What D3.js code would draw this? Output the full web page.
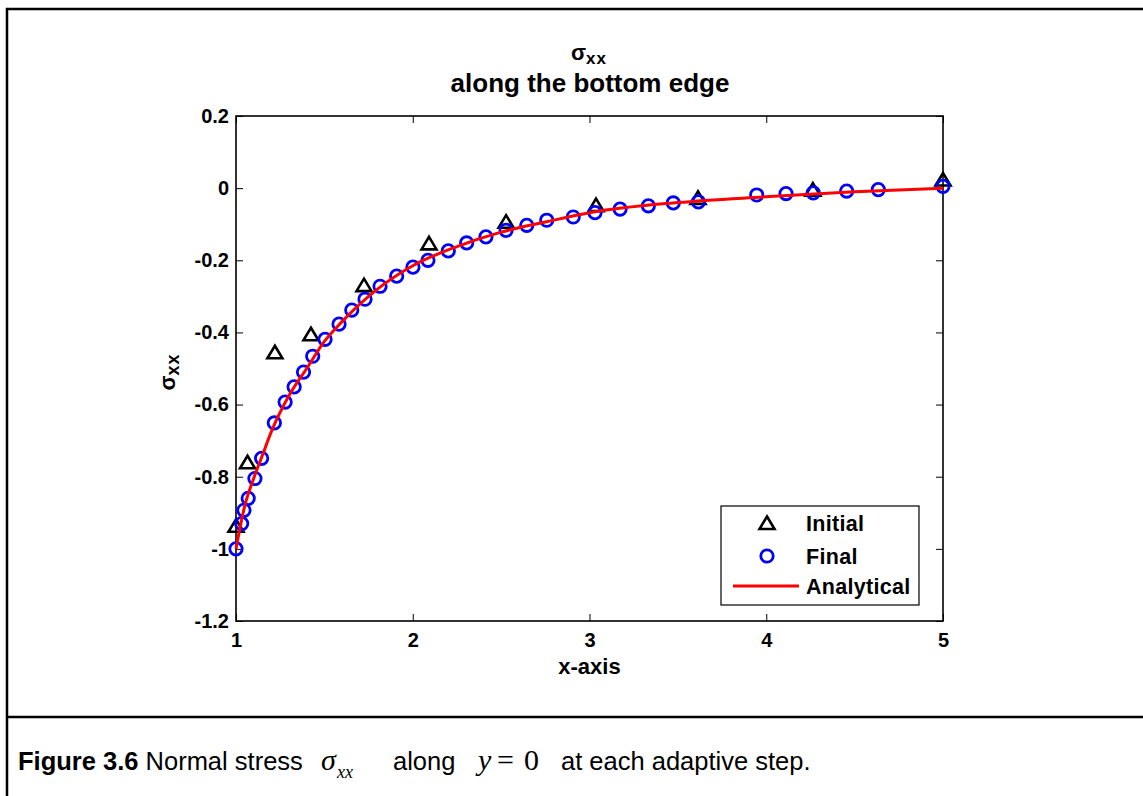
<!DOCTYPE html>
<html>
<head>
<meta charset="utf-8">
<script src="https://cdn.jsdelivr.net/npm/d3@7"></script>
<style>
  html, body { margin: 0; padding: 0; background: #fff; }
  svg { display: block; }
</style>
</head>
<body>
<script>
// ---------------- data ----------------
const initialX = [1.0, 1.065, 1.22, 1.424, 1.724, 2.092, 2.528, 3.037, 3.614, 4.264, 5.0];
const initialY = [-0.936, -0.76, -0.455, -0.405, -0.269, -0.153, -0.093, -0.047, -0.027, -0.004, 0.024];

const finalX = [1.0, 1.032, 1.045, 1.069, 1.107, 1.145, 1.217, 1.278, 1.329, 1.382, 1.434, 1.504,
  1.583, 1.655, 1.730, 1.815, 1.909, 2.001, 2.086, 2.201, 2.305, 2.414, 2.528, 2.645, 2.758,
  2.908, 3.031, 3.173, 3.333, 3.474, 3.616, 3.946, 4.112, 4.266, 4.455, 4.634, 5.0];
const finalY = [-1.0, -0.930, -0.893, -0.860, -0.805, -0.749, -0.651, -0.593, -0.551, -0.510, -0.466, -0.419,
  -0.377, -0.338, -0.308, -0.272, -0.244, -0.219, -0.200, -0.174, -0.152, -0.135, -0.117, -0.103, -0.089,
  -0.080, -0.068, -0.058, -0.049, -0.041, -0.038, -0.019, -0.015, -0.013, -0.008, -0.004, 0.005];

const analyticalX = [1.0, 1.05, 1.1, 1.15, 1.2, 1.3, 1.4, 1.5, 1.6, 1.8, 2.0, 2.25, 2.5, 2.75, 3.0, 3.5, 4.0, 4.5, 5.0];
const analyticalY = [-1.0, -0.88, -0.805, -0.74, -0.675, -0.575, -0.50, -0.425, -0.37, -0.28, -0.215, -0.162, -0.122, -0.094, -0.068, -0.040, -0.024, -0.010, 0.0];

const xTicks = [1, 2, 3, 4, 5];
const xTickLabels = ["1", "2", "3", "4", "5"];
const yTicks = [0.2, 0, -0.2, -0.4, -0.6, -0.8, -1.0, -1.2];
const yTickLabels = ["0.2", "0", "-0.2", "-0.4", "-0.6", "-0.8", "-1", "-1.2"];

const seriesNames = ["Initial", "Final", "Analytical"];

// ---------------- layout ----------------
const W = 1143, H = 796;
const plot = { left: 236, right: 943, top: 116, bottom: 621 };
const FONT = "'Liberation Sans', Arial, Helvetica, sans-serif";
const SERIF = "'Liberation Serif', 'Times New Roman', Times, serif";

const svg = d3.select("body").append("svg")
  .attr("width", W).attr("height", H)
  .style("background", "#fff");

// outer frame + divider
svg.append("path")
  .attr("d", `M7,${H} V9 H${W}`)
  .attr("fill", "none").attr("stroke", "#000").attr("stroke-width", 2.5);
svg.append("line")
  .attr("x1", 7).attr("x2", W).attr("y1", 717).attr("y2", 717)
  .attr("stroke", "#000").attr("stroke-width", 2.5);

const x = d3.scaleLinear().domain([1, 5]).range([plot.left, plot.right]);
const y = d3.scaleLinear().domain([-1.2, 0.2]).range([plot.bottom, plot.top]);

// axes
function styleAxis(g) {
  g.select(".domain").remove();
  g.selectAll(".tick line").attr("stroke", "#000").attr("stroke-width", 1);
  g.selectAll(".tick text")
    .attr("fill", "#000")
    .style("font-family", FONT).style("font-weight", "bold").style("font-size", "20px");
}

svg.append("g").attr("transform", `translate(0,${plot.bottom})`)
  .call(d3.axisBottom(x).tickValues(xTicks).tickFormat((d, i) => xTickLabels[i])
    .tickSizeInner(-7).tickSizeOuter(0).tickPadding(12))
  .call(styleAxis);
svg.append("g").attr("transform", `translate(0,${plot.top})`)
  .call(d3.axisTop(x).tickValues(xTicks).tickFormat("")
    .tickSizeInner(-7).tickSizeOuter(0))
  .call(styleAxis);
svg.append("g").attr("transform", `translate(${plot.left},0)`)
  .call(d3.axisLeft(y).tickValues(yTicks).tickFormat((d, i) => yTickLabels[i])
    .tickSizeInner(-7).tickSizeOuter(0).tickPadding(7))
  .call(styleAxis);
svg.append("g").attr("transform", `translate(${plot.right},0)`)
  .call(d3.axisRight(y).tickValues(yTicks).tickFormat("")
    .tickSizeInner(-7).tickSizeOuter(0))
  .call(styleAxis);

// box
svg.append("rect")
  .attr("x", plot.left).attr("y", plot.top)
  .attr("width", plot.right - plot.left).attr("height", plot.bottom - plot.top)
  .attr("fill", "none").attr("stroke", "#000").attr("stroke-width", 1.6);

// markers
const triPath = "M0,-6.5L7.5,6L-7.5,6Z";
const initialData = initialX.map((v, i) => ({ x: v, y: initialY[i] }));
const finalData = finalX.map((v, i) => ({ x: v, y: finalY[i] }));
const analyticalData = analyticalX.map((v, i) => ({ x: v, y: analyticalY[i] }));

svg.append("g").selectAll("path").data(initialData).join("path")
  .attr("d", triPath)
  .attr("transform", d => `translate(${x(d.x)},${y(d.y)})`)
  .attr("fill", "none").attr("stroke", "#000").attr("stroke-width", 2.6)
  .attr("stroke-linejoin", "miter");

svg.append("g").selectAll("circle").data(finalData).join("circle")
  .attr("cx", d => x(d.x)).attr("cy", d => y(d.y)).attr("r", 6.2)
  .attr("fill", "none").attr("stroke", "#0000ff").attr("stroke-width", 2.8);

const line = d3.line().x(d => x(d.x)).y(d => y(d.y)).curve(d3.curveMonotoneX);
svg.append("path").datum(analyticalData)
  .attr("d", line)
  .attr("fill", "none").attr("stroke", "#ff0000").attr("stroke-width", 3);

// title
const t1 = svg.append("text").attr("x", 589).attr("y", 60).attr("text-anchor", "middle")
  .style("font-family", FONT).style("font-weight", "bold").attr("fill", "#000");
t1.append("tspan").style("font-size", "22px").text("σ");
t1.append("tspan").attr("dy", 4).style("font-size", "17px").style("letter-spacing", "1px").text("xx");

svg.append("text").attr("x", 590).attr("y", 92).attr("text-anchor", "middle")
  .style("font-family", FONT).style("font-weight", "bold").style("font-size", "26px")
  .attr("fill", "#000").text("along the bottom edge");

// x label
svg.append("text").attr("x", 589.5).attr("y", 674).attr("text-anchor", "middle")
  .style("font-family", FONT).style("font-weight", "bold").style("font-size", "22px")
  .attr("fill", "#000").text("x-axis");

// y label
const yl = svg.append("text").attr("transform", "translate(175,372) rotate(-90)")
  .attr("text-anchor", "middle")
  .style("font-family", FONT).style("font-weight", "bold").attr("fill", "#000");
yl.append("tspan").style("font-size", "22px").text("σ");
yl.append("tspan").attr("dy", 4).style("font-size", "18px").style("letter-spacing", "1px").text("xx");

// legend
const lg = { x: 721, y: 506, w: 198, h: 99 };
svg.append("rect").attr("x", lg.x).attr("y", lg.y).attr("width", lg.w).attr("height", lg.h)
  .attr("fill", "#fff").attr("stroke", "#000").attr("stroke-width", 1.2);
const rows = [523, 556, 586];
svg.append("path").attr("d", triPath).attr("transform", `translate(767,${rows[0]})`)
  .attr("fill", "none").attr("stroke", "#000").attr("stroke-width", 2.6);
svg.append("circle").attr("cx", 767).attr("cy", rows[1]).attr("r", 6.2)
  .attr("fill", "none").attr("stroke", "#0000ff").attr("stroke-width", 2.8);
svg.append("line").attr("x1", 733).attr("x2", 799).attr("y1", rows[2]).attr("y2", rows[2])
  .attr("stroke", "#ff0000").attr("stroke-width", 3);
svg.append("g").selectAll("text").data(seriesNames).join("text")
  .attr("x", 806).attr("y", (d, i) => rows[i] + 8)
  .style("font-family", FONT).style("font-weight", "bold").style("font-size", "21.5px")
  .style("letter-spacing", "0.3px")
  .attr("fill", "#000").text(d => d);

// caption
const capY = 770;
const c1 = svg.append("text").attr("x", 18).attr("y", capY)
  .style("font-family", FONT).style("font-size", "25.5px").attr("fill", "#000");
c1.append("tspan").style("font-weight", "bold").text("Figure 3.6");
c1.append("tspan").text(" Normal stress");

svg.append("text").attr("x", 321).attr("y", capY)
  .style("font-family", SERIF).style("font-style", "italic").style("font-size", "30px")
  .attr("fill", "#000").text("σ");
svg.append("text").attr("x", 337).attr("y", capY + 8)
  .style("font-family", SERIF).style("font-style", "italic").style("font-size", "18px")
  .attr("fill", "#000").text("xx");

svg.append("text").attr("x", 393).attr("y", capY)
  .style("font-family", FONT).style("font-size", "25.5px").attr("fill", "#000").text("along");

svg.append("text").attr("x", 478).attr("y", capY)
  .style("font-family", SERIF).style("font-style", "italic").style("font-size", "30px")
  .attr("fill", "#000").text("y");
svg.append("text").attr("x", 497).attr("y", capY)
  .style("font-family", SERIF).style("font-size", "30px")
  .attr("fill", "#000").text("=");
svg.append("text").attr("x", 524).attr("y", capY)
  .style("font-family", SERIF).style("font-size", "30px")
  .attr("fill", "#000").text("0");

svg.append("text").attr("x", 561).attr("y", capY)
  .style("font-family", FONT).style("font-size", "25.5px").attr("fill", "#000")
  .text("at each adaptive step.");
</script>
</body>
</html>
